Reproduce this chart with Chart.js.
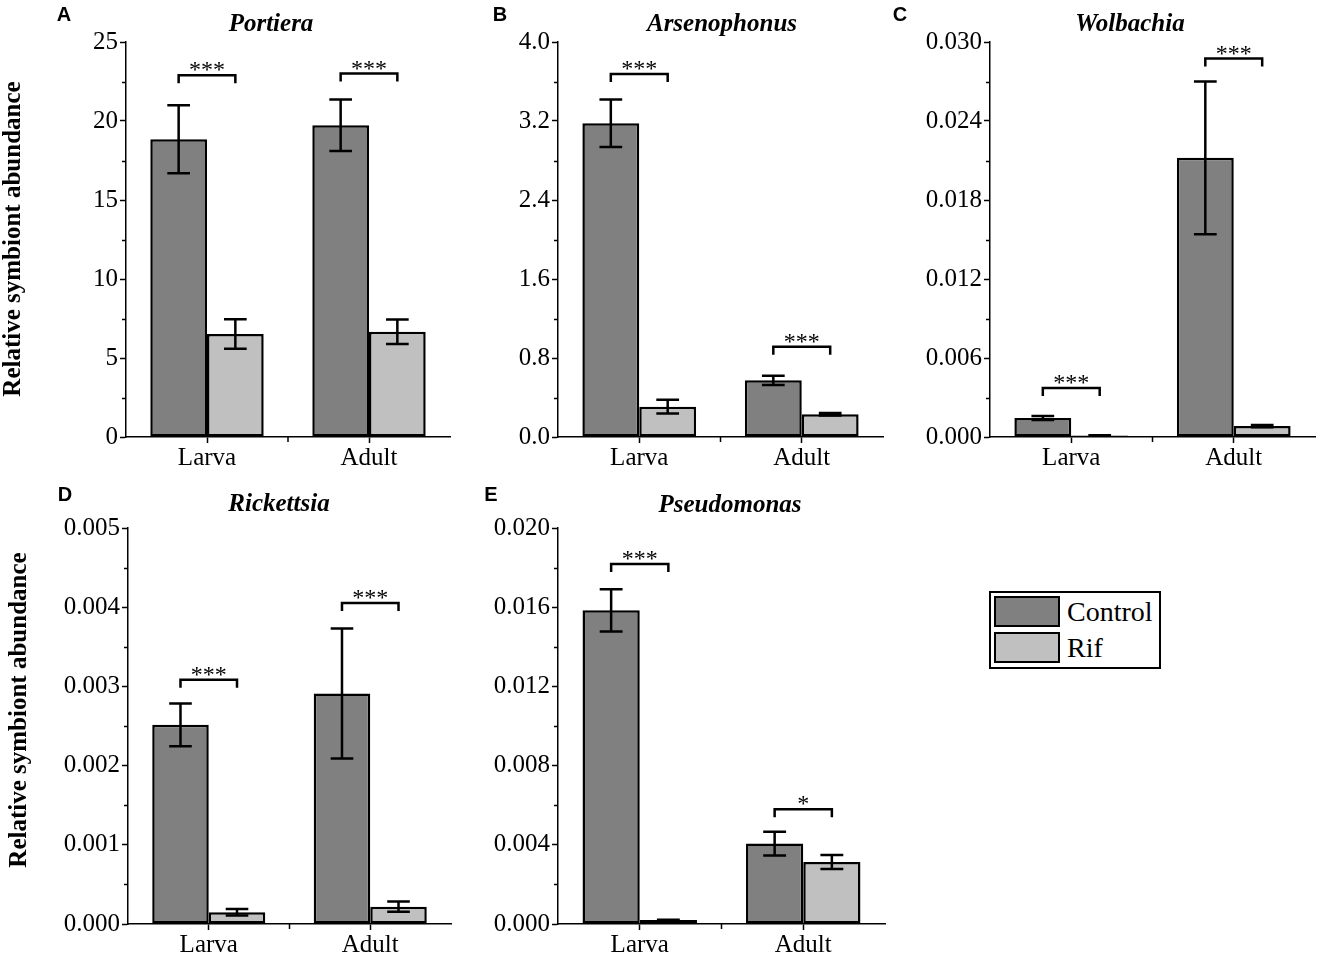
<!DOCTYPE html>
<html>
<head>
<meta charset="utf-8">
<script src="https://cdn.jsdelivr.net/npm/chart.js@4.4.1/dist/chart.umd.min.js"></script>
<style>
html,body{margin:0;padding:0;background:#fff;}
body{width:1317px;height:954px;position:relative;overflow:hidden;}
canvas{position:absolute;}
#legend{position:absolute;left:989px;top:591px;width:168px;height:74px;border:2px solid #000;background:#fff;}
.sw{position:absolute;left:3px;width:62px;height:27px;border:2px solid #000;}
.lt{position:absolute;left:76px;font:28px 'Liberation Serif','Times New Roman',serif;line-height:31px;color:#000;white-space:nowrap;}
</style>
</head>
<body>
<div id="legend"></div>
<script>
// ---------------- DATA ----------------
const categories = ['Larva', 'Adult'];
const seriesNames = ['Control', 'Rif'];
const seriesColors = ['#808080', '#c0c0c0'];
const yAxisTitle = 'Relative symbiont abundance';

// A  Portiera
const portieraControl   = [18.84, 19.73];
const portieraControlSE = [2.15, 1.63];
const portieraRif       = [6.52, 6.66];
const portieraRifSE     = [0.94, 0.77];
const portieraTicks     = [0, 5, 10, 15, 20, 25];
const portieraSig       = ['***', '***'];
const portieraSigLevel  = [22.9, 23.0];

// B  Arsenophonus
const arsenoControl   = [3.177, 0.574];
const arsenoControlSE = [0.24, 0.047];
const arsenoRif       = [0.307, 0.23];
const arsenoRifSE     = [0.07, 0.012];
const arsenoTicks     = [0, 0.8, 1.6, 2.4, 3.2, 4.0];
const arsenoSig       = ['***', '***'];
const arsenoSigLevel  = [3.676, 0.914];

// C  Wolbachia
const wolbControl   = [0.00144, 0.0212];
const wolbControlSE = [0.00015, 0.0058];
const wolbRif       = [0.00012, 0.00083];
const wolbRifSE     = [0.00002, 0.00009];
const wolbTicks     = [0, 0.006, 0.012, 0.018, 0.024, 0.030];
const wolbSig       = ['***', '***'];
const wolbSigLevel  = [0.00372, 0.02874];

// D  Rickettsia
const rickControl   = [0.002515, 0.00291];
const rickControlSE = [0.00027, 0.00082];
const rickRif       = [0.000148, 0.000219];
const rickRifSE     = [0.00004, 0.000065];
const rickTicks     = [0, 0.001, 0.002, 0.003, 0.004, 0.005];
const rickSig       = ['***', '***'];
const rickSigLevel  = [0.003083, 0.004052];

// E  Pseudomonas
const pseudoControl   = [0.01584, 0.00406];
const pseudoControlSE = [0.00107, 0.0006];
const pseudoRif       = [0.0002, 0.00313];
const pseudoRifSE     = [0.00002, 0.00035];
const pseudoTicks     = [0, 0.004, 0.008, 0.012, 0.016, 0.020];
const pseudoSig       = ['***', '*'];
const pseudoSigLevel  = [0.01818, 0.0058];

// ---------------- PANELS (data refs + layout) ----------------
const SERIF = "'Liberation Serif','Times New Roman',serif";
const SANS = "'Liberation Sans',Arial,sans-serif";

const panels = [
  { letter:'A', title:'Portiera', control:portieraControl, controlSE:portieraControlSE, rif:portieraRif, rifSE:portieraRifSE,
    ticks:portieraTicks, dec:0, sig:portieraSig, sigLevel:portieraSigLevel,
    L:{left:0, top:0, w:460, h:480, yW:126, xH:43, padTop:42, padRight:10,
       titleX:271, titleY:31, letterX:64, letterY:21, yTitle:{x:14, y:239}} },
  { letter:'B', title:'Arsenophonus', control:arsenoControl, controlSE:arsenoControlSE, rif:arsenoRif, rifSE:arsenoRifSE,
    ticks:arsenoTicks, dec:1, sig:arsenoSig, sigLevel:arsenoSigLevel,
    L:{left:440, top:0, w:460, h:480, yW:118, xH:43, padTop:42, padRight:17,
       titleX:722, titleY:31, letterX:500, letterY:21} },
  { letter:'C', title:'Wolbachia', control:wolbControl, controlSE:wolbControlSE, rif:wolbRif, rifSE:wolbRifSE,
    ticks:wolbTicks, dec:3, sig:wolbSig, sigLevel:wolbSigLevel,
    L:{left:880, top:0, w:437, h:480, yW:110, xH:43, padTop:42, padRight:2,
       titleX:1130, titleY:31, letterX:900, letterY:21} },
  { letter:'D', title:'Rickettsia', control:rickControl, controlSE:rickControlSE, rif:rickRif, rifSE:rickRifSE,
    ticks:rickTicks, dec:3, sig:rickSig, sigLevel:rickSigLevel,
    L:{left:0, top:480, w:460, h:474, yW:128, xH:30, padTop:48, padRight:9,
       titleX:279, titleY:511, letterX:65, letterY:501, yTitle:{x:20, y:710}} },
  { letter:'E', title:'Pseudomonas', control:pseudoControl, controlSE:pseudoControlSE, rif:pseudoRif, rifSE:pseudoRifSE,
    ticks:pseudoTicks, dec:3, sig:pseudoSig, sigLevel:pseudoSigLevel,
    L:{left:440, top:480, w:460, h:474, yW:118, xH:30, padTop:48, padRight:15,
       titleX:730, titleY:512, letterX:491, letterY:501} }
];

const annotPlugin = {
  id: 'annot',
  afterDatasetsDraw(chart, args, opts) {
    const p = opts.panel;
    const ctx = chart.ctx;
    const ys = chart.scales.y;
    ctx.save();
    // error bars
    ctx.strokeStyle = '#000';
    ctx.lineWidth = 2.5;
    chart.data.datasets.forEach((ds, di) => {
      const meta = chart.getDatasetMeta(di);
      meta.data.forEach((bar, i) => {
        const v = ds.data[i], e = ds.errors[i];
        const yT = ys.getPixelForValue(v + e);
        const yB = ys.getPixelForValue(Math.max(v - e, 0));
        const half = bar.width * 0.2;
        ctx.beginPath();
        ctx.moveTo(bar.x, yT); ctx.lineTo(bar.x, yB);
        ctx.moveTo(bar.x - half, yT); ctx.lineTo(bar.x + half, yT);
        ctx.moveTo(bar.x - half, yB); ctx.lineTo(bar.x + half, yB);
        ctx.stroke();
      });
    });
    // significance brackets
    const m0 = chart.getDatasetMeta(0), m1 = chart.getDatasetMeta(1);
    ctx.lineWidth = 2.5;
    ctx.fillStyle = '#000';
    ctx.font = '24px ' + SERIF;
    ctx.textAlign = 'center';
    ctx.textBaseline = 'middle';
    p.sig.forEach((s, i) => {
      const x0 = m0.data[i].x, x1 = m1.data[i].x;
      const y = ys.getPixelForValue(p.sigLevel[i]);
      ctx.beginPath();
      ctx.moveTo(x0, y + 8); ctx.lineTo(x0, y); ctx.lineTo(x1, y); ctx.lineTo(x1, y + 8);
      ctx.stroke();
      ctx.fillText(s, (x0 + x1) / 2, y - 4);
    });
    ctx.restore();
  },
  afterDraw(chart, args, opts) {
    const p = opts.panel, L = p.L;
    const ctx = chart.ctx;
    const ys = chart.scales.y, xs = chart.scales.x;
    const ca = chart.chartArea;
    ctx.save();
    ctx.strokeStyle = '#000';
    ctx.lineWidth = 1.5;
    // minor y ticks
    for (let i = 0; i < p.ticks.length - 1; i++) {
      const y = Math.round(ys.getPixelForValue((p.ticks[i] + p.ticks[i + 1]) / 2)) + 0.5;
      ctx.beginPath(); ctx.moveTo(ca.left - 4, y); ctx.lineTo(ca.left, y); ctx.stroke();
    }
    // middle x tick
    const xm = (xs.getPixelForValue(0) + xs.getPixelForValue(1)) / 2;
    ctx.beginPath(); ctx.moveTo(xm, ca.bottom); ctx.lineTo(xm, ca.bottom + 5); ctx.stroke();
    // title
    ctx.fillStyle = '#000';
    ctx.textAlign = 'center';
    ctx.textBaseline = 'alphabetic';
    ctx.font = 'italic bold 25px ' + SERIF;
    ctx.fillText(p.title, L.titleX - L.left, L.titleY - L.top);
    // panel letter
    ctx.font = 'bold 20px ' + SANS;
    ctx.fillText(p.letter, L.letterX - L.left, L.letterY - L.top);
    // y axis title
    if (L.yTitle) {
      ctx.translate(L.yTitle.x - L.left, L.yTitle.y - L.top);
      ctx.rotate(-Math.PI / 2);
      ctx.textBaseline = 'middle';
      ctx.font = 'bold 25px ' + SERIF;
      ctx.fillText(yAxisTitle, 0, 0);
    }
    ctx.restore();
  }
};

panels.forEach((p) => {
  const L = p.L;
  const cv = document.createElement('canvas');
  cv.width = L.w; cv.height = L.h;
  cv.style.left = L.left + 'px'; cv.style.top = L.top + 'px';
  cv.style.width = L.w + 'px'; cv.style.height = L.h + 'px';
  document.body.appendChild(cv);
  new Chart(cv, {
    type: 'bar',
    data: {
      labels: categories,
      datasets: [
        { label: seriesNames[0], data: p.control, errors: p.controlSE, backgroundColor: seriesColors[0],
          borderColor: '#000', borderWidth: 2.5, borderSkipped: false },
        { label: seriesNames[1], data: p.rif, errors: p.rifSE, backgroundColor: seriesColors[1],
          borderColor: '#000', borderWidth: 2.5, borderSkipped: false }
      ]
    },
    options: {
      responsive: false,
      animation: false,
      devicePixelRatio: 1,
      layout: { padding: { top: L.padTop, right: L.padRight, left: 0, bottom: 0 } },
      datasets: { bar: { categoryPercentage: 0.70, barPercentage: 1.0 } },
      plugins: {
        legend: { display: false },
        tooltip: { enabled: false },
        title: { display: false },
        annot: { panel: p }
      },
      scales: {
        x: {
          offset: true,
          grid: { display: true, drawOnChartArea: false, drawTicks: true, tickLength: 6, tickColor: '#000', tickWidth: 1.5, offset: false },
          border: { display: true, color: '#000', width: 1.5 },
          ticks: { color: '#000', font: { family: SERIF, size: 25 }, padding: 0, maxRotation: 0 },
          afterFit(s) { s.height = L.xH; }
        },
        y: {
          min: p.ticks[0], max: p.ticks[p.ticks.length - 1],
          grid: { display: true, drawOnChartArea: false, drawTicks: true, tickLength: 6, tickColor: '#000', tickWidth: 1.5 },
          border: { display: true, color: '#000', width: 1.5 },
          ticks: { color: '#000', font: { family: SERIF, size: 25 }, padding: 2,
                   callback: (v) => Number(v).toFixed(p.dec) },
          afterBuildTicks(s) { s.ticks = p.ticks.map(v => ({ value: v })); },
          afterFit(s) { s.width = L.yW; }
        }
      }
    },
    plugins: [annotPlugin]
  });
});

// legend
const lg = document.getElementById('legend');
seriesNames.forEach((n, i) => {
  const sw = document.createElement('div');
  sw.className = 'sw';
  sw.style.top = (3 + i * 36) + 'px';
  sw.style.background = seriesColors[i];
  lg.appendChild(sw);
  const t = document.createElement('div');
  t.className = 'lt';
  t.style.top = (3 + i * 36) + 'px';
  t.textContent = n;
  lg.appendChild(t);
});
</script>
</body>
</html>
